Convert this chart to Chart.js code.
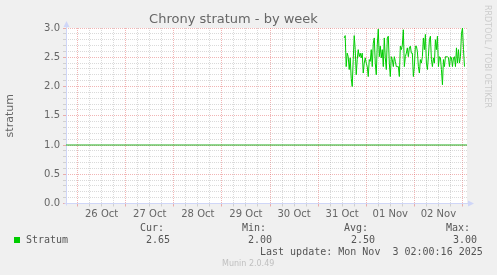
<!DOCTYPE html>
<html><head><meta charset="utf-8">
<script src="https://cdn.jsdelivr.net/npm/chart.js@4/dist/chart.umd.min.js"></script>
<style>
html,body{margin:0;padding:0;background:#f0f0f0;}
#wrap{position:relative;width:497px;height:275px;overflow:hidden;background:#f0f0f0;}
#c{position:absolute;left:0;top:0;}
.t{position:absolute;white-space:pre;font-family:"DejaVu Sans Mono",monospace;font-size:10px;line-height:12px;color:#555;}
.sq{position:absolute;left:14px;top:237px;width:6px;height:6px;background:#00cc00;}
.munin{position:absolute;left:222px;top:259px;font-family:"DejaVu Sans",sans-serif;font-size:8px;line-height:10px;color:#c0c0c0;white-space:pre;}
.rrd{position:absolute;left:482px;top:5px;font-family:"DejaVu Sans",sans-serif;font-size:8px;line-height:10px;color:#cccccc;white-space:pre;writing-mode:vertical-rl;}
</style></head><body>
<div id="wrap">
<canvas id="c" width="497" height="275"></canvas>
<div class="sq"></div>
<div class="t" style="left:26px;top:234px">Stratum</div>
<div class="t" style="left:140px;top:222px">Cur:</div>
<div class="t" style="left:146px;top:234px">2.65</div>
<div class="t" style="left:242px;top:222px">Min:</div>
<div class="t" style="left:248px;top:234px">2.00</div>
<div class="t" style="left:344px;top:222px">Avg:</div>
<div class="t" style="left:351px;top:234px">2.50</div>
<div class="t" style="left:446px;top:222px">Max:</div>
<div class="t" style="left:453px;top:234px">3.00</div>
<div class="t" style="left:260px;top:246px">Last update: Mon Nov  3 02:00:16 2025</div>
<div class="munin">Munin 2.0.49</div>
<div class="rrd">RRDTOOL / TOBI OETIKER</div>
</div>
<script>
// ---- data (x in hours since 26 Oct 00:00) ----
const dayLabels = ['26 Oct','27 Oct','28 Oct','29 Oct','30 Oct','31 Oct','01 Nov','02 Nov'];
const stratum = [
  2.83,2.87,2.34,2.57,2.51,2.29,2.49,2.14,2.00,2.46,
  2.87,2.63,2.20,2.46,2.63,2.51,2.57,2.49,2.57,2.23,
  2.40,2.49,2.40,2.34,2.17,2.46,2.43,2.63,2.34,2.74,
  2.83,2.40,2.20,2.71,2.98,2.51,2.69,2.49,2.63,2.34,
  2.83,2.49,2.29,2.83,2.86,2.40,2.17,2.51,2.46,2.34,
  2.51,2.43,2.34,2.34,2.34,2.17,2.69,2.63,2.71,2.97,
  2.34,2.51,2.57,2.66,2.51,2.66,2.69,2.57,2.57,2.17,
  2.34,2.69,2.69,2.60,2.34,2.23,2.46,2.40,2.51,2.83,
  2.63,2.89,2.40,2.29,2.51,2.80,2.86,2.46,2.34,2.49,
  2.40,2.80,2.63,2.86,2.34,2.51,2.49,2.29,2.03,2.46,
  2.34,2.51,2.51,2.51,2.49,2.34,2.51,2.49,2.34,2.49,
  2.51,2.34,2.66,2.40,2.63,2.40,2.51,2.91,3.00,2.63,
  2.34
];
const firstSampleHour = 133;
const sampleStepHours = 0.5;
const referenceLine = 1.0;
const xMin = -5.75, xMax = 194.25;
const xGridHours = []; for (let h = 0; h <= 192; h += 6) xGridHours.push(h);
const yGridTenths = []; for (let i = 0; i <= 30; i++) yGridTenths.push(i / 10);

const MAJ = 'rgba(222,79,79,0.42)';
const MIN = 'rgba(150,150,150,0.35)';
const AXIS = '#CFD6F8';

const axesPlugin = {
  id: 'rrdAxes',
  beforeDatasetsDraw(chart) {
    const {ctx, chartArea: a} = chart;
    ctx.save();
    ctx.strokeStyle = AXIS; ctx.fillStyle = AXIS; ctx.lineWidth = 1;
    const x0 = Math.round(a.left) + 0.5, y0 = Math.floor(a.bottom) + 0.5;
    ctx.beginPath(); ctx.moveTo(x0, y0 + 2); ctx.lineTo(x0, a.top - 4); ctx.stroke();
    ctx.beginPath(); ctx.moveTo(x0 - 2, y0); ctx.lineTo(a.right + 4, y0); ctx.stroke();
    ctx.beginPath(); ctx.moveTo(x0, a.top - 7); ctx.lineTo(x0 - 3, a.top - 1); ctx.lineTo(x0 + 3, a.top - 1); ctx.closePath(); ctx.fill();
    ctx.beginPath(); ctx.moveTo(a.right + 7, y0); ctx.lineTo(a.right + 1, y0 - 3); ctx.lineTo(a.right + 1, y0 + 3); ctx.closePath(); ctx.fill();
    ctx.restore();
  }
};

const canvasBg = {
  id: 'canvasBg',
  beforeDraw(chart) {
    const {ctx, chartArea: a} = chart;
    ctx.save();
    ctx.fillStyle = '#f0f0f0'; ctx.fillRect(0, 0, chart.width, chart.height);
    ctx.fillStyle = '#ffffff'; ctx.fillRect(a.left, a.top, a.right - a.left, Math.floor(a.bottom) - a.top);
    ctx.restore();
  }
};

new Chart(document.getElementById('c'), {
  type: 'line',
  data: {
    datasets: [
      {
        label: 'Stratum',
        data: stratum.map((v, i) => ({x: firstSampleHour + i * sampleStepHours, y: v})),
        borderColor: '#00cc00', borderWidth: 1, pointRadius: 0, tension: 0, fill: false
      },
      {
        label: 'ref',
        data: [{x: xMin, y: referenceLine}, {x: xMax, y: referenceLine}],
        borderColor: '#20b020', borderWidth: 1, pointRadius: 0, fill: false
      }
    ]
  },
  options: {
    responsive: false, animation: false, devicePixelRatio: 1,
    layout: {padding: {left: 0, right: 30, top: 0, bottom: 52}},
    plugins: {
      legend: {display: false}, tooltip: {enabled: false},
      title: {display: true, text: 'Chrony stratum - by week', color: '#666',
        font: {family: 'DejaVu Sans', size: 13, weight: 'normal', lineHeight: 16 / 13},
        padding: {top: 12, bottom: 0}}
    },
    scales: {
      x: {
        type: 'linear', min: xMin, max: xMax,
        afterBuildTicks: s => { s.ticks = xGridHours.map(v => ({value: v})); },
        afterFit: s => { s.height = 19.5; },
        ticks: {autoSkip: false, maxRotation: 0, minRotation: 0, padding: 2, color: '#666',
          font: {family: 'DejaVu Sans', size: 10},
          callback: v => (v % 24 === 12 ? dayLabels[(v - 12) / 24] : '')},
        grid: {lineWidth: 1, tickLength: 3,
          color: c => (c.tick && c.tick.value % 24 === 0 ? MAJ : MIN),
          tickColor: c => (c.tick && c.tick.value % 24 === 0 ? MAJ : MIN)},
        border: {display: false, dash: [1, 1]}
      },
      y: {
        type: 'linear', min: 0, max: 3,
        afterBuildTicks: s => { s.ticks = yGridTenths.map(v => ({value: v})); },
        afterFit: s => { s.width = 66; },
        ticks: {autoSkip: false, padding: 3, color: '#666',
          font: {family: 'DejaVu Sans', size: 10},
          callback: v => (Math.round(v * 10) % 5 === 0 ? v.toFixed(1) : '')},
        grid: {lineWidth: 1, tickLength: 3,
          color: c => (c.tick && Math.round(c.tick.value * 10) % 5 === 0 ? MAJ : MIN),
          tickColor: c => (c.tick && Math.round(c.tick.value * 10) % 5 === 0 ? MAJ : MIN)},
        border: {display: false, dash: [1, 1]},
        title: {display: true, text: 'stratum', color: '#666',
          font: {family: 'DejaVu Sans', size: 11}, padding: {top: 4, bottom: 0}}
      }
    }
  },
  plugins: [canvasBg, axesPlugin]
});
</script>
</body></html>
